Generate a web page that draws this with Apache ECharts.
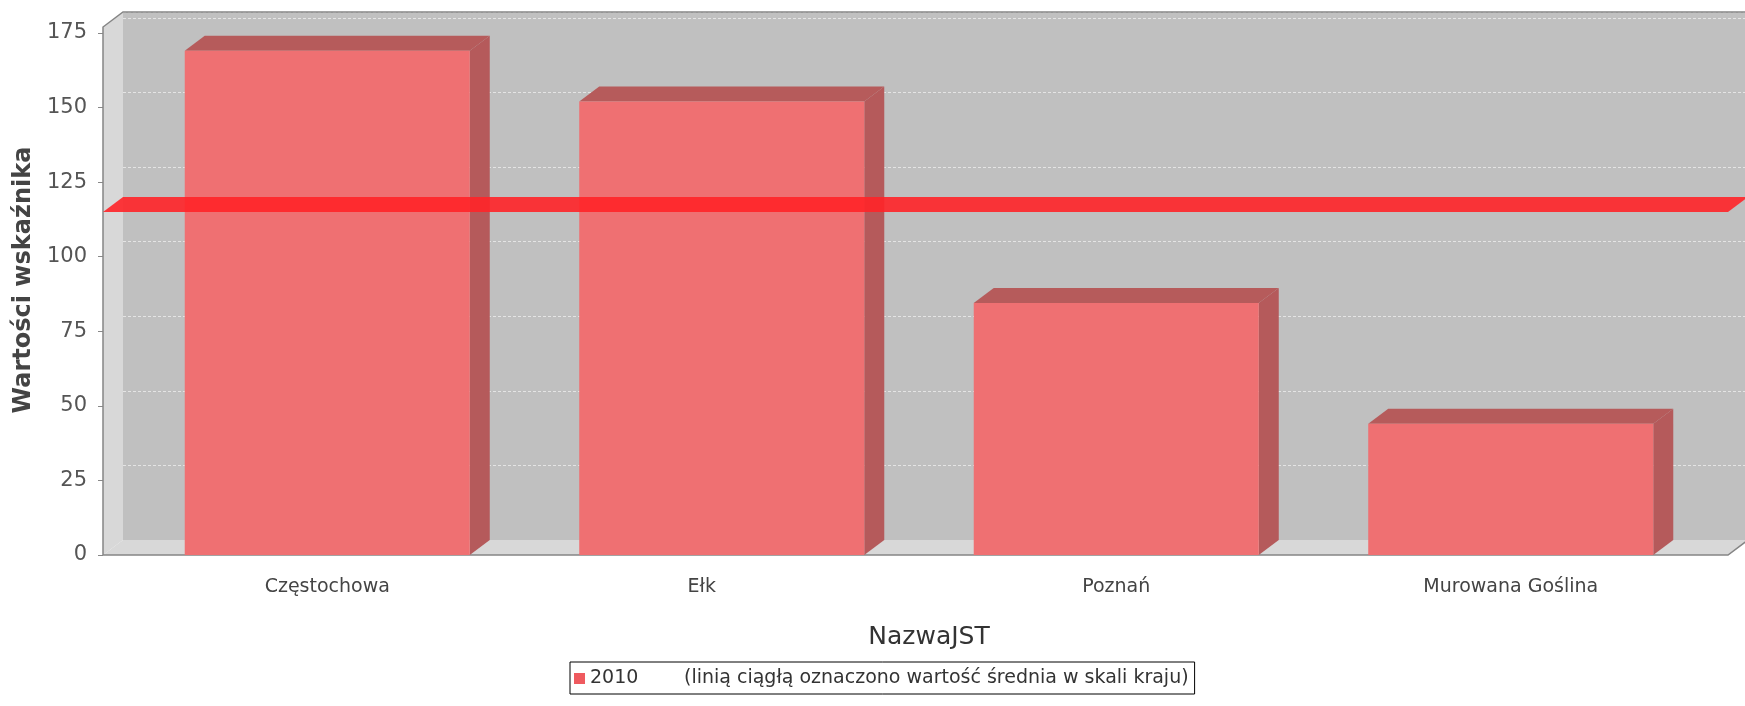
<!DOCTYPE html>
<html>
<head>
<meta charset="utf-8">
<script src="https://cdn.jsdelivr.net/npm/echarts@6/dist/echarts.min.js"></script>
<style>
html,body{margin:0;padding:0;background:#fff;}
#chart{width:1745px;height:706px;}
</style>
</head>
<body>
<div id="chart"></div>
<script>
// ---- data ----
const categories = ['Częstochowa', 'Ełk', 'Poznań', 'Murowana Goślina'];
const values2010 = [169, 152, 84.5, 44];
const meanValue = [115];
const yTickValues = [0, 25, 50, 75, 100, 125, 150, 175];
const seriesName = '2010';
const legendNote = '(linią ciągłą oznaczono wartość średnia w skali kraju)';
const yAxisTitle = 'Wartości wskaźnika';
const xAxisTitle = 'NazwaJST';

// ---- style constants ----
const DX = 20, DY = 15;
const Y_MAX = 177;
const FONT = 'DejaVu Sans';
const FRONT = '#ef7072', TOPC = '#b65b5b', SIDE = '#b55a5b';

const chart = echarts.init(document.getElementById('chart'));

function renderWalls(params, api) {
  const cs = params.coordSys;
  const x = cs.x, y = cs.y, w = cs.width, h = cs.height;
  return {
    type: 'group',
    children: [
      { type: 'polygon', shape: { points: [[x, y + h], [x, y], [x + DX, y - DY], [x + DX, y + h - DY]] }, style: { fill: '#d8d8d8' } },
      { type: 'polygon', shape: { points: [[x, y + h], [x + w, y + h], [x + w + DX, y + h - DY], [x + DX, y + h - DY]] }, style: { fill: '#d8d8d8' } },
      { type: 'polyline', shape: { points: [[x + w + DX, y + h - DY], [x + w, y + h], [x, y + h], [x, y], [x + DX, y - DY], [x + w + DX, y - DY]] }, style: { stroke: '#858585', lineWidth: 1.5, fill: null } }
    ]
  };
}

function renderBar(params, api) {
  const idx = api.value(0), v = api.value(1);
  const top = api.coord([idx, v]);
  const base = api.coord([idx, 0]);
  const band = api.size([1, 0])[0];
  const w = band * 0.7225;
  const x = top[0] - w / 2, ty = top[1], by = base[1];
  return {
    type: 'group',
    children: [
      { type: 'polygon', shape: { points: [[x + w, ty], [x + w + DX, ty - DY], [x + w + DX, by - DY], [x + w, by]] }, style: { fill: SIDE } },
      { type: 'polygon', shape: { points: [[x, ty], [x + DX, ty - DY], [x + w + DX, ty - DY], [x + w, ty]] }, style: { fill: TOPC } },
      { type: 'rect', shape: { x: x, y: ty, width: w, height: by - ty }, style: { fill: FRONT } }
    ]
  };
}

function renderMean(params, api) {
  const cs = params.coordSys;
  const p = api.coord([0, api.value(1)]);
  const x = cs.x, w = cs.width, yy = p[1];
  return {
    type: 'polygon',
    shape: { points: [[x, yy], [x + w, yy], [x + w + DX, yy - DY], [x + DX, yy - DY]] },
    style: { fill: 'rgba(255,35,40,0.9)' }
  };
}

const option = {
  backgroundColor: '#ffffff',
  animation: false,
  grid: [
    { left: 103, top: 27, width: 1625, height: 528 },
    { left: 130, top: 27, width: 1578, height: 528 },
    { left: 123, top: 12, width: 1625, height: 528, show: true, backgroundColor: '#c0c0c0', borderWidth: 0 }
  ],
  xAxis: [
    { gridIndex: 0, type: 'value', min: 0, max: 1, show: false },
    {
      gridIndex: 1, type: 'category', data: categories,
      axisLine: { show: false }, axisTick: { show: false },
      axisLabel: {
        margin: 23, fontFamily: FONT, fontSize: 19, color: '#444',
        formatter: function (v) { return v === 'Ełk' ? '{s|' + v + '}' : v; },
        rich: { s: { fontFamily: FONT, fontSize: 19, color: '#444', padding: [0, 40, 0, 0] } }
      },
      name: xAxisTitle, nameLocation: 'middle', nameGap: 70,
      nameTextStyle: { fontFamily: FONT, fontSize: 25, color: '#333', padding: [0, 0, 0, 20] }
    },
    { gridIndex: 2, type: 'value', min: 0, max: 1, show: false }
  ],
  yAxis: [
    {
      gridIndex: 0, type: 'value', min: 0, max: Y_MAX,
      axisLine: { show: false },
      axisTick: { show: true, length: 5, lineStyle: { color: '#888' }, customValues: yTickValues },
      axisLabel: { margin: 16, fontFamily: FONT, fontSize: 21, color: '#555', customValues: yTickValues },
      splitLine: { show: false },
      name: yAxisTitle, nameLocation: 'middle', nameRotate: 90, nameGap: 64,
      nameTextStyle: { fontFamily: FONT, fontSize: 24, fontWeight: 'bold', color: '#444', padding: [0, 0, 0, 22] }
    },
    { gridIndex: 1, type: 'value', min: 0, max: Y_MAX, show: false },
    {
      gridIndex: 2, type: 'value', min: 0, max: Y_MAX, interval: 25,
      axisLine: { show: false }, axisTick: { show: false }, axisLabel: { show: false },
      splitLine: { show: true, lineStyle: { color: '#e4e4e4', type: [3, 2], width: 1 } }
    }
  ],
  legend: {
    data: [seriesName],
    left: 570, top: 662,
    borderColor: '#000', borderWidth: 1, padding: [7, 6, 6, 4],
    icon: 'rect', itemWidth: 11, itemHeight: 11, itemGap: 4,
    formatter: function (n) { return '{a|' + n + '}{b|' + legendNote + '}'; },
    textStyle: {
      fontFamily: FONT, fontSize: 19, color: '#333',
      rich: {
        a: { fontFamily: FONT, fontSize: 19, color: '#333', width: 94 },
        b: { fontFamily: FONT, fontSize: 19, color: '#333' }
      }
    }
  },
  series: [
    {
      type: 'custom', name: 'walls', xAxisIndex: 0, yAxisIndex: 0, z: 1,
      renderItem: renderWalls, data: [[0, 0]], silent: true
    },
    {
      type: 'custom', name: seriesName, xAxisIndex: 1, yAxisIndex: 1, z: 3,
      itemStyle: { color: '#ef5a5f' },
      renderItem: renderBar, encode: { x: 0, y: 1 },
      data: categories.map(function (c, i) { return [i, values2010[i]]; })
    },
    {
      type: 'custom', name: 'mean', xAxisIndex: 0, yAxisIndex: 0, z: 4,
      renderItem: renderMean, encode: { x: 0, y: 1 },
      data: meanValue.map(function (m) { return [0, m]; })
    }
  ]
};
chart.setOption(option);
</script>
</body>
</html>
